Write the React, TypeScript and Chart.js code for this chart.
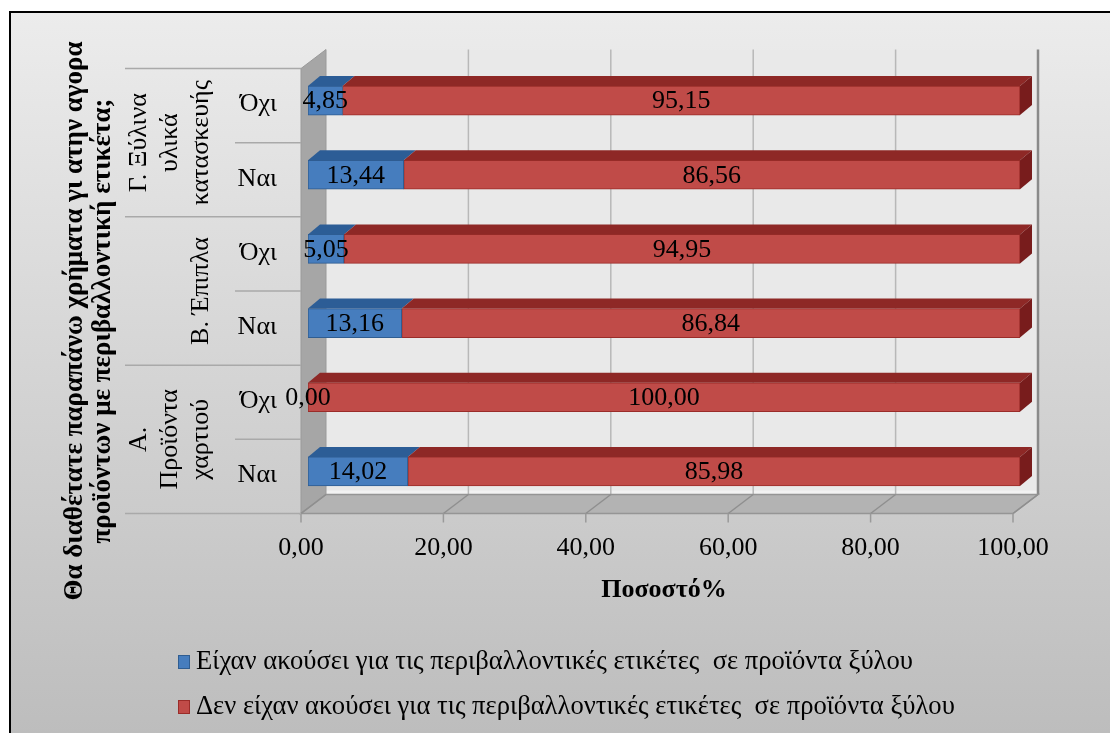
import React, { useEffect, useRef } from 'react';
import { Chart, registerables } from 'chart.js';

Chart.register(...registerables);

// ---------- data ----------
const categories = ['Όχι', 'Ναι', 'Όχι', 'Ναι', 'Όχι', 'Ναι'];
const heardValues = [4.85, 13.44, 5.05, 13.16, 0.0, 14.02];
const notHeardValues = [95.15, 86.56, 94.95, 86.84, 100.0, 85.98];
const groupLabels = [['Γ. Ξύλινα', 'υλικά', 'κατασκευής'], ['Β. Έπιπλα'], ['Α.', 'Προϊόντα', 'χαρτιού']];
const groupSizes = [2, 2, 2];
const seriesNames = [
  'Είχαν ακούσει για τις περιβαλλοντικές ετικέτες  σε προϊόντα ξύλου',
  'Δεν είχαν ακούσει για τις περιβαλλοντικές ετικέτες  σε προϊόντα ξύλου',
];
const xTicks = [0, 20, 40, 60, 80, 100];
const yTitleLines = ['Θα διαθέτατε παραπάνω χρήματα γι ατην αγορα', 'προϊόντων με περιβαλλοντική ετικέτα;'];
const xTitle = 'Ποσοστό%';

// ---------- styles ----------
const SERIF = '"Liberation Serif", "Times New Roman", serif';
const FRONT_COLORS = ['#467dbe', '#c04b48'];
const TOP_COLORS = ['#2c5d96', '#8e2826'];
const END_COLORS = ['#24507f', '#781c1c'];
const BORDER_COLORS = ['#2f5d91', '#9a2c29'];
const FRONT_DX = -7;
const FRONT_DY = 5;
const DEPTH_DX = 25;
const DEPTH_DY = -19;
const BAR_DX = 12;
const BAR_DY = -10;

const fmt = (v: number) => v.toFixed(2).replace('.', ',');

const threeD = {
  id: 'threeD',
  beforeDraw(chart: any) {
    const { ctx, width, height } = chart;
    ctx.save();
    ctx.fillStyle = '#ffffff';
    ctx.fillRect(0, 0, width, height);
    const g = ctx.createLinearGradient(0, 12, 0, height);
    g.addColorStop(0, '#ececec');
    g.addColorStop(1, '#bdbdbd');
    ctx.fillStyle = g;
    ctx.fillRect(10, 12, width - 10, height - 12);
    ctx.strokeStyle = '#000';
    ctx.lineWidth = 2;
    ctx.beginPath();
    ctx.moveTo(10, height);
    ctx.lineTo(10, 12);
    ctx.lineTo(width, 12);
    ctx.stroke();
    ctx.restore();
  },
  beforeDatasetsDraw(chart: any) {
    const { ctx, chartArea } = chart;
    const xs = chart.scales.x;
    const fx = (v: number) => xs.getPixelForValue(v) + FRONT_DX;
    const bx = (v: number) => fx(v) + DEPTH_DX;
    const fTop = chartArea.top + FRONT_DY;
    const fBot = chartArea.bottom + FRONT_DY;
    const bTop = fTop + DEPTH_DY;
    const bBot = fBot + DEPTH_DY;
    const vMin = xTicks[0];
    const vMax = xTicks[xTicks.length - 1];
    ctx.save();
    // back wall
    ctx.fillStyle = '#e9e9e9';
    ctx.fillRect(bx(vMin), bTop, bx(vMax) - bx(vMin), bBot - bTop);
    ctx.fillStyle = '#f2f2f2';
    ctx.fillRect(bx(vMin), bBot - 4, bx(vMax) - bx(vMin), 4);
    // back wall grid
    xTicks.forEach((v) => {
      if (v === vMin) return;
      ctx.beginPath();
      ctx.moveTo(bx(v), bTop);
      ctx.lineTo(bx(v), bBot);
      ctx.strokeStyle = v === vMax ? '#8a8a8a' : '#b8b8b8';
      ctx.lineWidth = v === vMax ? 2.5 : 1.5;
      ctx.stroke();
    });
    // left wall
    ctx.beginPath();
    ctx.moveTo(fx(vMin), fTop);
    ctx.lineTo(bx(vMin), bTop);
    ctx.lineTo(bx(vMin), bBot);
    ctx.lineTo(fx(vMin), fBot);
    ctx.closePath();
    ctx.fillStyle = '#a6a6a6';
    ctx.fill();
    ctx.strokeStyle = '#9a9a9a';
    ctx.lineWidth = 1;
    ctx.stroke();
    // floor
    ctx.beginPath();
    ctx.moveTo(fx(vMin), fBot);
    ctx.lineTo(fx(vMax), fBot);
    ctx.lineTo(bx(vMax), bBot);
    ctx.lineTo(bx(vMin), bBot);
    ctx.closePath();
    ctx.fillStyle = '#b3b3b3';
    ctx.fill();
    ctx.strokeStyle = '#959595';
    ctx.lineWidth = 1.5;
    ctx.stroke();
    xTicks.forEach((v) => {
      ctx.beginPath();
      ctx.moveTo(fx(v), fBot);
      ctx.lineTo(bx(v), bBot);
      ctx.strokeStyle = '#8f8f8f';
      ctx.lineWidth = 1.5;
      ctx.stroke();
      ctx.beginPath();
      ctx.moveTo(fx(v), fBot);
      ctx.lineTo(fx(v), fBot + 9);
      ctx.strokeStyle = '#9a9a9a';
      ctx.stroke();
    });
    // category dividers
    const n = categories.length;
    const band = (chartArea.bottom - chartArea.top) / n;
    const boundaries = new Set<number>([0]);
    let acc = 0;
    groupSizes.forEach((s) => {
      acc += s;
      boundaries.add(acc);
    });
    for (let i = 0; i <= n; i++) {
      const y = chartArea.top + i * band + FRONT_DY;
      ctx.beginPath();
      ctx.moveTo(boundaries.has(i) ? 125 : 235, y);
      ctx.lineTo(fx(vMin), y);
      ctx.strokeStyle = '#a9a9a9';
      ctx.lineWidth = 1.5;
      ctx.stroke();
    }
    // group labels
    ctx.fillStyle = '#000';
    ctx.font = `26px ${SERIF}`;
    ctx.textAlign = 'center';
    ctx.textBaseline = 'middle';
    let start = 0;
    groupLabels.forEach((lines, gi) => {
      const size = groupSizes[gi];
      const yc = chartArea.top + (start + size / 2) * band + FRONT_DY;
      start += size;
      lines.forEach((line, li) => {
        const x = 201 - (lines.length - 1 - li) * 31;
        ctx.save();
        ctx.translate(x, yc);
        ctx.rotate(-Math.PI / 2);
        ctx.fillText(line, 0, 0);
        ctx.restore();
      });
    });
    // y title
    ctx.font = `bold 27px ${SERIF}`;
    yTitleLines.forEach((line, li) => {
      ctx.save();
      ctx.translate(75 + li * 28, 321);
      ctx.rotate(-Math.PI / 2);
      ctx.fillText(line, 0, 0);
      ctx.restore();
    });
    ctx.restore();
  },
  afterDatasetsDraw(chart: any) {
    const { ctx } = chart;
    ctx.save();
    const nds = chart.data.datasets.length;
    chart.data.datasets.forEach((ds: any, di: number) => {
      const meta = chart.getDatasetMeta(di);
      meta.data.forEach((el: any) => {
        const left = Math.min(el.x, el.base);
        const right = Math.max(el.x, el.base);
        const top = el.y - el.height / 2;
        const bot = el.y + el.height / 2;
        ctx.beginPath();
        ctx.moveTo(left, top);
        ctx.lineTo(right, top);
        ctx.lineTo(right + BAR_DX, top + BAR_DY);
        ctx.lineTo(left + BAR_DX, top + BAR_DY);
        ctx.closePath();
        ctx.fillStyle = TOP_COLORS[di];
        ctx.fill();
        if (di === nds - 1) {
          ctx.beginPath();
          ctx.moveTo(right, top);
          ctx.lineTo(right + BAR_DX, top + BAR_DY);
          ctx.lineTo(right + BAR_DX, bot + BAR_DY);
          ctx.lineTo(right, bot);
          ctx.closePath();
          ctx.fillStyle = END_COLORS[di];
          ctx.fill();
        }
      });
    });
    ctx.fillStyle = '#000';
    ctx.font = `26px ${SERIF}`;
    ctx.textAlign = 'center';
    ctx.textBaseline = 'middle';
    chart.data.datasets.forEach((ds: any, di: number) => {
      const meta = chart.getDatasetMeta(di);
      meta.data.forEach((el: any, i: number) => {
        ctx.fillText(fmt(ds.data[i]), (el.x + el.base) / 2, el.y + 1);
      });
    });
    ctx.restore();
  },
  afterDraw(chart: any) {
    const { ctx } = chart;
    ctx.save();
    ctx.font = `26.6px ${SERIF}`;
    ctx.textAlign = 'left';
    ctx.textBaseline = 'middle';
    const rows = [662, 707];
    seriesNames.forEach((name, i) => {
      const y = rows[i];
      ctx.fillStyle = FRONT_COLORS[i];
      ctx.fillRect(178, y - 7, 12, 14);
      ctx.strokeStyle = BORDER_COLORS[i];
      ctx.lineWidth = 1;
      ctx.strokeRect(178.5, y - 6.5, 11, 13);
      ctx.fillStyle = '#000';
      ctx.fillText(name, 196, y);
    });
    ctx.restore();
  },
};

export default function App() {
  const ref = useRef<HTMLCanvasElement>(null);
  useEffect(() => {
    if (!ref.current) return;
    const chart = new Chart(ref.current, {
      type: 'bar',
      data: {
        labels: categories,
        datasets: [
          {
            label: seriesNames[0],
            data: heardValues,
            backgroundColor: FRONT_COLORS[0],
            borderColor: BORDER_COLORS[0],
            borderWidth: 1,
            borderSkipped: false,
            barThickness: 29,
          },
          {
            label: seriesNames[1],
            data: notHeardValues,
            backgroundColor: FRONT_COLORS[1],
            borderColor: BORDER_COLORS[1],
            borderWidth: 1,
            borderSkipped: false,
            barThickness: 29,
          },
        ],
      },
      options: {
        indexAxis: 'y',
        responsive: false,
        animation: false,
        devicePixelRatio: 1,
        layout: { padding: { top: 63.5, right: 90, bottom: 114.5, left: 0 } },
        plugins: { legend: { display: false }, tooltip: { enabled: false } },
        scales: {
          x: {
            stacked: true,
            min: xTicks[0],
            max: xTicks[xTicks.length - 1],
            afterBuildTicks: (s: any) => {
              s.ticks = xTicks.map((v) => ({ value: v }));
            },
            afterFit: (s: any) => {
              s.height = 110;
            },
            ticks: {
              callback: (v: any) => fmt(Number(v)),
              font: { family: SERIF, size: 26 },
              color: '#000',
              padding: 24,
              labelOffset: -7,
              maxRotation: 0,
              autoSkip: false,
            },
            grid: { display: false, drawTicks: false },
            border: { display: false },
            title: {
              display: true,
              text: xTitle,
              font: { family: SERIF, size: 26, weight: 'bold' },
              color: '#000',
              padding: { top: 0, bottom: 13 },
            },
          },
          y: {
            stacked: true,
            afterFit: (s: any) => {
              s.width = 308;
            },
            ticks: {
              font: { family: SERIF, size: 26 },
              color: '#000',
              padding: 31,
              labelOffset: 4,
              autoSkip: false,
            },
            grid: { display: false, drawTicks: false },
            border: { display: false },
          },
        },
      },
      plugins: [threeD],
    } as any);
    return () => chart.destroy();
  }, []);
  return (
    <div style={{ position: 'fixed', left: 0, top: 0, width: 1110, height: 733 }}>
      <canvas ref={ref} width={1110} height={733} style={{ display: 'block' }} />
    </div>
  );
}
